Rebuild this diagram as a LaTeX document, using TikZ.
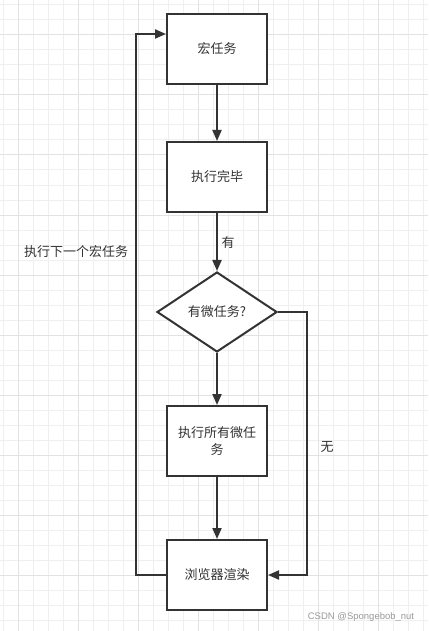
\documentclass[tikz,border=0pt]{standalone}
\usepackage{fontspec}
\setmainfont{Liberation Sans}
\newfontfamily\cjk{Noto Sans CJK SC}
\usetikzlibrary{shapes.geometric,arrows.meta}
\definecolor{ln}{HTML}{333333}
\definecolor{gminor}{HTML}{EFEFEF}
\definecolor{gmajor}{HTML}{E2E2E2}
\definecolor{wm}{HTML}{9A9A9A}
\tikzset{
  box/.style={draw=ln, line width=2pt, fill=white, rectangle, minimum width=100pt, minimum height=70pt, inner sep=0pt, font=\cjk\fontsize{13}{17}\selectfont, text=ln, align=center},
  decision/.style={draw=ln, line width=2pt, fill=white, diamond, minimum width=120pt, minimum height=80pt, inner sep=0pt, font=\cjk\fontsize{13}{17}\selectfont, text=ln},
  conn/.style={draw=ln, line width=2pt, -{Triangle[length=11pt,width=9pt]}},
  lbl/.style={font=\cjk\fontsize{13}{17}\selectfont, text=ln, inner sep=0pt},
  gridminor/.style={draw=gminor, line width=1pt},
  gridmajor/.style={draw=gmajor, line width=1pt}
}
\begin{document}
\begin{tikzpicture}[x=1pt,y=-1pt]
\useasboundingbox (0,0) rectangle (428,631);
\fill[white] (0,0) rectangle (428,631);
\foreach \i in {0,...,28} \draw[gridminor] ({3.3+15*\i},0) -- ({3.3+15*\i},631);
\foreach \j in {0,...,41} \draw[gridminor] (0,{5+15*\j}) -- (428,{5+15*\j});
\foreach \i in {0,...,6} \draw[gridmajor] ({18.3+60*\i},0) -- ({18.3+60*\i},631);
\foreach \j in {0,...,10} \draw[gridmajor] (0,{35+60*\j}) -- (428,{35+60*\j});

\node[box] (m1) at (217,49) {宏任务};
\node[box] (m2) at (217,177) {执行完毕};
\node[decision] (dq) at (217,312) {有微任务?};
\node[box] (m3) at (217,441) {执行所有微任\\务};
\node[box] (m4) at (217,575) {浏览器渲染};

\draw[conn] (m1) -- (m2);
\draw[conn] (m2) -- (dq);
\draw[conn] (dq) -- (m3);
\draw[conn] (m3) -- (m4);
\draw[conn] (m4.west) -- ++(-30,0) |- ([yshift=15pt]m1.west);
\draw[conn] (dq.east) -- (307,312) |- (m4.east);

\node[lbl] (yes) at (228,243) {有};
\node[lbl] (no) at (327,447) {无};
\node[lbl] (next) at (76,252) {执行下一个宏任务};
\node[font=\fontsize{9.5}{11}\selectfont, text=wm, inner sep=0pt] (wmk) at (361,617) {CSDN @Spongebob\_nut};
\end{tikzpicture}
\end{document}
